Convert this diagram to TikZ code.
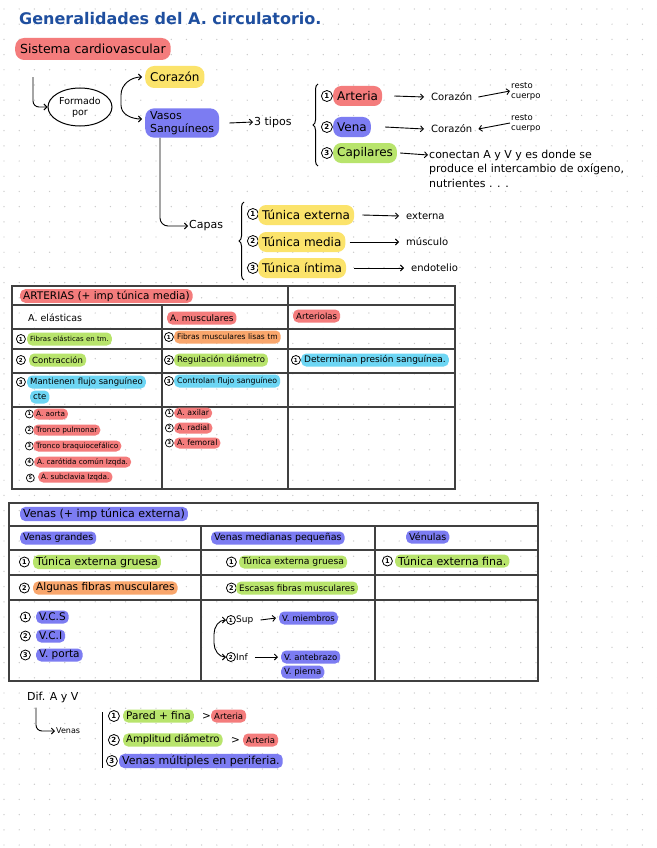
\documentclass[tikz,border=0pt]{standalone}
\usepackage{fontspec}
\setmainfont{DejaVu Sans}
\usetikzlibrary{arrows.meta,shapes.geometric,decorations.pathreplacing}
\definecolor{hred}{HTML}{F47C7C}
\definecolor{hyel}{HTML}{FBE36B}
\definecolor{hblu}{HTML}{7C7CF2}
\definecolor{hgrn}{HTML}{B8E46C}
\definecolor{hora}{HTML}{F9A66C}
\definecolor{hcya}{HTML}{6DD6F4}
\definecolor{titleblue}{HTML}{1F4F9F}
\definecolor{dotc}{HTML}{C9C9C9}
\newcommand{\fsz}[1]{\fontsize{#1}{#1}\selectfont}
\begin{document}
\begin{tikzpicture}[x=1pt,y=-1pt,
 hl/.style={anchor=west, rounded corners=5pt, inner xsep=3pt, inner ysep=1.5pt, minimum height=13pt},
 hlr/.style={hl, fill=hred}, hly/.style={hl, fill=hyel}, hlb/.style={hl, fill=hblu},
 hlg/.style={hl, fill=hgrn}, hlo/.style={hl, fill=hora}, hlc/.style={hl, fill=hcya},
 big/.style={minimum height=20pt, rounded corners=8pt, inner xsep=4pt, font=\fsz{12}},
 txt/.style={anchor=west, inner sep=1pt},
 cnbase/.style={anchor=west, circle, draw, line width=0.8pt, inner sep=0pt},
 bnum/.style={cnbase, minimum size=11pt, font=\bfseries\fsz{7}},
 num/.style={cnbase, minimum size=9pt, font=\bfseries\fsz{5.5}},
 snum/.style={cnbase, minimum size=8pt, line width=0.7pt, font=\bfseries\fsz{5}},
 vnum/.style={cnbase, minimum size=10pt, font=\bfseries\fsz{6.5}},
 arr/.style={-{Straight Barb[length=3pt,width=6pt]}, line width=0.9pt},
 dblarr/.style={{Straight Barb[length=3pt,width=6pt]}-{Straight Barb[length=3pt,width=6pt]}, line width=0.9pt},
 rule/.style={line width=1.3pt, draw=black!75},
 brc/.style={line width=1pt, decorate, decoration={brace, amplitude=5pt}},
 ]
\useasboundingbox (0,0) rectangle (656,848);
\fill[white] (0,0) rectangle (656,848);
\foreach \i in {0,...,43} {\foreach \j in {0,...,55} {\fill[dotc] (4+\i*15.2, 9+\j*15.2) circle (0.7);}}

% ---------- title ----------
\node[txt, font=\fsz{16}\bfseries, text=titleblue] (title) at (18,19) {Generalidades del A. circulatorio.};
\node[hlr, big, font=\fsz{12.5}, minimum height=22pt, rounded corners=9pt, inner xsep=5pt] (sist) at (15,49) {Sistema cardiovascular};

\node[draw, ellipse, line width=1pt, minimum width=64pt, minimum height=38pt, inner sep=0pt, align=center, font=\fontsize{9.5}{11}\selectfont] (form) at (80,107) {Formado\\por};
\draw[arr, rounded corners=6pt] ([xshift=18pt,yshift=-17pt]sist.south west) |- (form.west);

\node[hly, big, minimum height=22pt, rounded corners=9pt, inner xsep=5pt] (coraz) at (145,77) {Corazón};
\node[hlb, font=\fontsize{11}{13}\selectfont, align=left, rounded corners=9pt, inner xsep=5pt, inner ysep=3pt] (vasos) at (145,123) {Vasos\\Sanguíneos};
\draw[dblarr] ([xshift=-3pt]coraz.west) to[out=180,in=90] (121,95) -- (121,105) to[out=-90,in=180] ([xshift=-3pt,yshift=4pt]vasos.west);

\node[txt, font=\fsz{11}] (tipos) at (253,122) {3 tipos};
\draw[arr] ([xshift=10pt]vasos.east) -- (tipos.west);
\draw[brc] (318,166) -- (318,84);

\node[bnum] (n1a) at (321,96) {1};
\node[hlr, big] (arteria) at (333,96) {Arteria};
\node[txt, font=\fsz{10}] (cor1) at (430,97) {Corazón};
\node[txt, font=\fontsize{8.5}{10}\selectfont, align=left] (rc1) at (510,91) {resto\\cuerpo};
\draw[arr] ([xshift=12pt]arteria.east) -- ([xshift=-6pt]cor1.west);
\draw[arr] ([xshift=5pt]cor1.east) -- (rc1.west);

\node[bnum] (n2a) at (321,127) {2};
\node[hlb, big] (vena) at (333,127) {Vena};
\node[txt, font=\fsz{10}] (cor2) at (430,129) {Corazón};
\node[txt, font=\fontsize{8.5}{10}\selectfont, align=left] (rc2) at (510,123) {resto\\cuerpo};
\draw[arr] ([xshift=14pt]vena.east) -- ([xshift=-6pt]cor2.west);
\draw[arr] (rc2.west) -- ([xshift=5pt]cor2.east);

\node[bnum] (n3a) at (321,153) {3};
\node[hlg, big] (capil) at (333,153) {Capilares};
\node[txt, font=\fsz{11}] (con1) at (428,155) {conectan A y V y es donde se};
\node[txt, font=\fontsize{11}{15}\selectfont, align=left, anchor=north west] (con2) at (428,163) {produce el intercambio de oxígeno,\\nutrientes . . .};
\draw[arr] ([xshift=3pt]capil.east) -- (con1.west);

\node[txt, font=\fsz{11}] (capas) at (188,226) {Capas};
\draw[arr, rounded corners=8pt] ([xshift=15pt]vasos.south west) |- (capas.west);
\draw[brc] (244,280) -- (244,202);

\node[bnum] (t1n) at (247,214) {1};
\node[hly, big] (t1) at (258,215) {Túnica externa};
\node[txt, font=\fsz{10}] (ext) at (405,216) {externa};
\draw[arr] ([xshift=8pt]t1.east) -- ([xshift=-6pt]ext.west);
\node[bnum] (t2n) at (247,241) {2};
\node[hly, big] (t2) at (258,242) {Túnica media};
\node[txt, font=\fsz{10}] (musc) at (405,242) {músculo};
\draw[arr] ([xshift=4pt]t2.east) -- ([xshift=-6pt]musc.west);
\node[bnum] (t3n) at (247,268) {3};
\node[hly, big] (t3) at (258,268) {Túnica íntima};
\node[txt, font=\fsz{10}] (endo) at (410,268) {endotelio};
\draw[arr] ([xshift=8pt]t3.east) -- ([xshift=-6pt]endo.west);

% ---------- arteries table ----------
\draw[rule] (12,286) rectangle (455,489);
\foreach \yy in {305,329,349,373,407} \draw[rule] (12,\yy) -- (455,\yy);
\draw[rule] (162,305) -- (162,489);
\draw[rule] (288,286) -- (288,489);

\begin{scope}[every node/.append style={font=\fsz{8.5}}]
\node[hlr, font=\fsz{10.5}] (arthd) at (20,296) {ARTERIAS (+ imp túnica media)};
\node[txt, font=\fsz{9.5}] (ael) at (27,318) {A. elásticas};
\node[hlr, font=\fsz{9}] (amus) at (167,318) {A. musculares};
\node[hlr] (artl) at (293,316) {Arteriolas};

\node[num] (a31) at (16,339) {1};
\node[hlg, font=\fsz{7}] (a32) at (27,339) {Fibras elásticas en tm.};
\node[num] (a33) at (164,337) {1};
\node[hlo, font=\fsz{7.6}] (a34) at (174,337) {Fibras musculares lisas tm};

\node[num] (a41) at (16,360) {2};
\node[hlg] (a42) at (29,360) {Contracción};
\node[num] (a43) at (164,360) {2};
\node[hlg] (a44) at (174,360) {Regulación diámetro};
\node[num] (a45) at (291,360) {1};
\node[hlc, font=\fsz{9}] (a46) at (301,360) {Determinan presión sanguínea.};

\node[num] (a51) at (16,382) {3};
\node[hlc] (a52) at (27,382) {Mantienen flujo sanguíneo};
\node[hlc] (a53) at (30,397) {cte};
\node[num] (a54) at (164,381) {3};
\node[hlc, font=\fsz{7.8}] (a55) at (174,381) {Controlan flujo sanguíneo};

\node[snum] (l1n) at (25,414) {1};
\node[hlr, font=\fsz{7.3}, minimum height=11pt] (l1) at (33,414) {A. aorta};
\node[snum] (l2n) at (25,430) {2};
\node[hlr, font=\fsz{7.3}, minimum height=11pt] (l2) at (33,430) {Tronco pulmonar};
\node[snum] (l3n) at (25,446) {3};
\node[hlr, font=\fsz{7.3}, minimum height=11pt] (l3) at (33,446) {Tronco braquiocefálico};
\node[snum] (l4n) at (25,462) {4};
\node[hlr, font=\fsz{7.3}, minimum height=11pt] (l4) at (34,462) {A. carótida común Izqda.};
\node[snum] (l5n) at (26,478) {5};
\node[hlr, font=\fsz{7.3}, minimum height=11pt] (l5) at (38,477) {A. subclavia Izqda.};

\node[snum] (m1n) at (165,413) {1};
\node[hlr, font=\fsz{7.8}, minimum height=11pt] (m1) at (174,413) {A. axilar};
\node[snum] (m2n) at (165,428) {2};
\node[hlr, font=\fsz{7.8}, minimum height=11pt] (m2) at (174,428) {A. radial};
\node[snum] (m3n) at (165,443) {3};
\node[hlr, font=\fsz{7.8}, minimum height=11pt] (m3) at (174,443) {A. femoral};
\end{scope}

% ---------- veins table ----------
\draw[rule] (9,503) rectangle (538,681);
\foreach \yy in {526,550,575,600} \draw[rule] (9,\yy) -- (538,\yy);
\draw[rule] (201,526) -- (201,681);
\draw[rule] (375,526) -- (375,681);

\begin{scope}[every node/.append style={font=\fsz{10.5}}]
\node[hlb, font=\fsz{11}] (vhd) at (20,514) {Venas (+ imp túnica externa)};
\node[hlb, font=\fsz{9.5}] (vg) at (20,538) {Venas grandes};
\node[hlb, font=\fsz{9.5}] (vm) at (211,538) {Venas medianas pequeñas};
\node[hlb, font=\fsz{9.5}] (vn) at (406,537) {Vénulas};

\node[vnum] (v31) at (19,562) {1};
\node[hlg, font=\fsz{11}] (v32) at (33,562) {Túnica externa gruesa};
\node[vnum] (v33) at (226,562) {1};
\node[hlg, font=\fsz{9.2}] (v34) at (239,562) {Túnica externa gruesa};
\node[vnum] (v35) at (382,561) {1};
\node[hlg, font=\fsz{11}] (v36) at (395,561) {Túnica externa fina.};

\node[vnum] (v41) at (19,588) {2};
\node[hlo] (v42) at (33,588) {Algunas fibras musculares};
\node[vnum] (v43) at (226,588) {2};
\node[hlg, font=\fsz{8.8}] (v44) at (236,588) {Escasas fibras musculares};

\node[vnum] (v51) at (20,617) {1};
\node[hlb] (v52) at (36,617) {V.C.S};
\node[vnum] (v53) at (20,636) {2};
\node[hlb] (v54) at (36,636) {V.C.I};
\node[vnum] (v55) at (20,655) {3};
\node[hlb] (v56) at (36,655) {V. porta};

\node[num] (s1n) at (226,620) {1};
\node[txt, font=\fsz{9}] (sup) at (235,620) {Sup};
\node[hlb, font=\fsz{8.5}] (miem) at (279,618) {V. miembros};
\draw[arr] ([xshift=6pt]sup.east) -- ([xshift=-3pt]miem.west);
\node[num] (s2n) at (226,657) {2};
\node[txt, font=\fsz{9}] (inf) at (235,657) {Inf};
\node[hlb, font=\fsz{8.5}] (antb) at (281,657) {V. antebrazo};
\node[hlb, font=\fsz{8.5}] (pier) at (281,672) {V. pierna};
\draw[arr] ([xshift=6pt]inf.east) -- ([xshift=-3pt]antb.west);
\draw[dblarr] (s1n.west) to[out=180,in=90] ++(-12,14) -- ++(0,9) to[out=-90,in=180] (s2n.west);
\end{scope}

% ---------- bottom ----------
\node[txt, font=\fsz{11}] (dif) at (26,697) {Dif. A y V};
\node[txt, font=\fsz{8}] (venas) at (55,731) {Venas};
\draw[arr, rounded corners=6pt] ([xshift=10pt,yshift=-4pt]dif.south west) |- (venas.west);
\draw[line width=1pt] (102,712) -- (102,768);

\begin{scope}[every node/.append style={font=\fsz{10.5}}]
\node[bnum] (d1n) at (108,716) {1};
\node[hlg] (d1) at (123,716) {Pared + fina};
\node[txt] (gt1) at (201,716) {>};
\node[hlr, font=\fsz{8.5}] (d1r) at (211,716) {Arteria};
\node[bnum] (d2n) at (108,740) {2};
\node[hlg, font=\fsz{10}] (d2) at (123,740) {Amplitud diámetro};
\node[txt] (gt2) at (230,740) {>};
\node[hlr, font=\fsz{8.5}] (d2r) at (243,740) {Arteria};
\node[bnum] (d3n) at (106,761) {3};
\node[hlb, font=\fsz{11}] (d3) at (119,761) {Venas múltiples en periferia.};
\end{scope}
\end{tikzpicture}
\end{document}
